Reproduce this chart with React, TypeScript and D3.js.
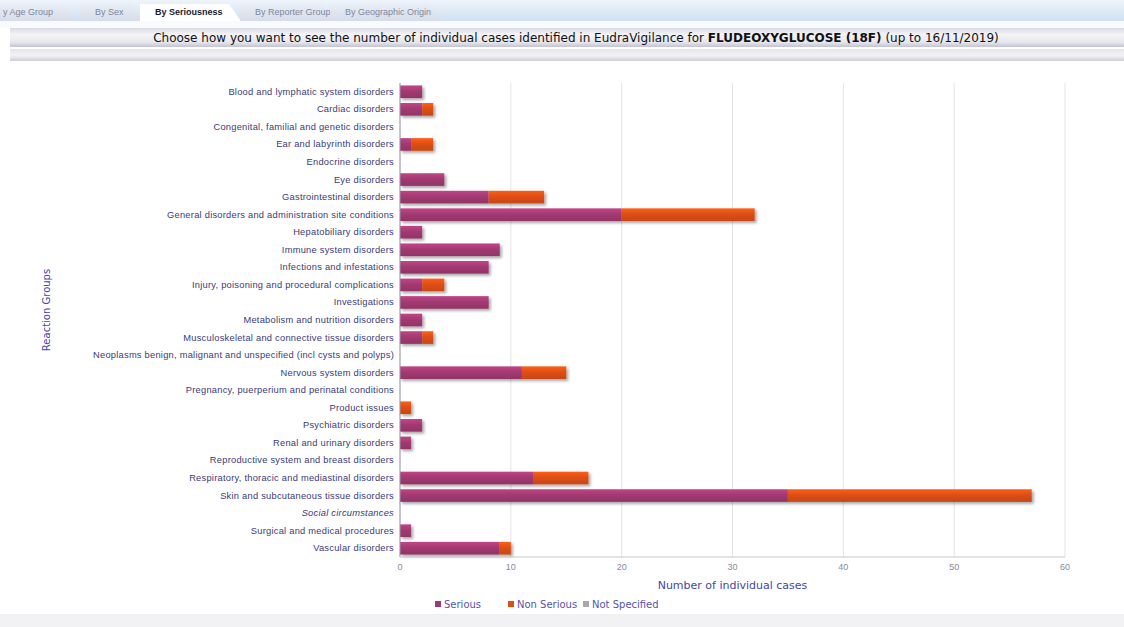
import React from "react";
import * as d3 from "d3";

const categories = [
  "Blood and lymphatic system disorders",
  "Cardiac disorders",
  "Congenital, familial and genetic disorders",
  "Ear and labyrinth disorders",
  "Endocrine disorders",
  "Eye disorders",
  "Gastrointestinal disorders",
  "General disorders and administration site conditions",
  "Hepatobiliary disorders",
  "Immune system disorders",
  "Infections and infestations",
  "Injury, poisoning and procedural complications",
  "Investigations",
  "Metabolism and nutrition disorders",
  "Musculoskeletal and connective tissue disorders",
  "Neoplasms benign, malignant and unspecified (incl cysts and polyps)",
  "Nervous system disorders",
  "Pregnancy, puerperium and perinatal conditions",
  "Product issues",
  "Psychiatric disorders",
  "Renal and urinary disorders",
  "Reproductive system and breast disorders",
  "Respiratory, thoracic and mediastinal disorders",
  "Skin and subcutaneous tissue disorders",
  "Social circumstances",
  "Surgical and medical procedures",
  "Vascular disorders",
];

const serious = [2, 2, 0, 1, 0, 4, 8, 20, 2, 9, 8, 2, 8, 2, 2, 0, 11, 0, 0, 2, 1, 0, 12, 35, 0, 1, 9];
const nonSerious = [0, 1, 0, 2, 0, 0, 5, 12, 0, 0, 0, 2, 0, 0, 1, 0, 4, 0, 1, 0, 0, 0, 5, 22, 0, 0, 1];
const notSpecified = [0, 0, 0, 0, 0, 0, 0, 0, 0, 0, 0, 0, 0, 0, 0, 0, 0, 0, 0, 0, 0, 0, 0, 0, 0, 0, 0];

const seriesNames = ["Serious", "Non Serious", "Not Specified"];
const seriesColors = ["#a23a72", "#dd4f14", "#a8a8a8"];
const xTicks = [0, 10, 20, 30, 40, 50, 60];
const tabs = ["y Age Group", "By Sex", "By Seriousness", "By Reporter Group", "By Geographic Origin"];

export default function App() {
  const W = 1124;
  const H = 627;
  const left = 400;
  const right = 1065;
  const top = 83;
  const bottom = 557;

  const x = d3.scaleLinear().domain([0, 60]).range([left, right]);
  const y = d3.scaleBand().domain(categories).range([top, bottom]).paddingInner(0.28).paddingOuter(0.14);

  const rows = categories.map((c, i) => ({ "0": serious[i], "1": nonSerious[i], "2": notSpecified[i] }));
  const stacked = d3.stack<any>().keys(["0", "1", "2"])(rows);

  const tabX = [0, 80, 140, 240, 330];
  const tabW = [70, 58, 95, 88, 105];
  const legendX = [435, 508, 583];

  return (
    <svg width={W} height={H} style={{ position: "absolute", left: 0, top: 0, background: "#fff" }} fontFamily="Liberation Sans, Arial, sans-serif">
      <defs>
        <linearGradient id="topband" x1="0" y1="0" x2="0" y2="1">
          <stop offset="0" stopColor="#eef4fb" />
          <stop offset="1" stopColor="#cfe0f2" />
        </linearGradient>
        <linearGradient id="tab" x1="0" y1="0" x2="0" y2="1">
          <stop offset="0" stopColor="#e9eef5" />
          <stop offset="1" stopColor="#d6dde8" />
        </linearGradient>
        <linearGradient id="bar" x1="0" y1="0" x2="0" y2="1">
          <stop offset="0" stopColor="#d9d9e4" />
          <stop offset="0.35" stopColor="#f4f4f7" />
          <stop offset="0.75" stopColor="#e6e6ee" />
          <stop offset="1" stopColor="#c3c3d2" />
        </linearGradient>
        <linearGradient id="bar2" x1="0" y1="0" x2="0" y2="1">
          <stop offset="0" stopColor="#e3e3ea" />
          <stop offset="0.5" stopColor="#f3f3f6" />
          <stop offset="1" stopColor="#cfcfdb" />
        </linearGradient>
        {seriesColors.map((col, i) => (
          <linearGradient key={i} id={`g${i}`} x1="0" y1="0" x2="0" y2="1">
            <stop offset="0" stopColor={d3.color(col)!.brighter(0.5).toString()} />
            <stop offset="0.45" stopColor={col} />
            <stop offset="1" stopColor={d3.color(col)!.darker(0.3).toString()} />
          </linearGradient>
        ))}
        <filter id="shadow" x="-5%" y="-30%" width="115%" height="200%">
          <feGaussianBlur in="SourceAlpha" stdDeviation="1.6" />
          <feOffset dx="2" dy="2" result="b" />
          <feComponentTransfer>
            <feFuncA type="linear" slope="0.35" />
          </feComponentTransfer>
          <feMerge>
            <feMergeNode />
            <feMergeNode in="SourceGraphic" />
          </feMerge>
        </filter>
      </defs>

      {/* top tab band */}
      <rect x={0} y={0} width={W} height={21} fill="url(#topband)" />
      {tabs.map((t, i) => (
        <g key={t}>
          <path
            d={`M${tabX[i]},21 L${tabX[i]},4 L${tabX[i] + tabW[i] - 6},4 L${tabX[i] + tabW[i] + 6},21 Z`}
            fill={i === 2 ? "#ffffff" : "url(#tab)"}
            opacity={i === 2 ? 1 : 0.9}
          />
          <text
            x={i === 0 ? 3 : tabX[i] + 15}
            y={15}
            fontSize={9}
            fill={i === 2 ? "#1a1a33" : "#7d86a0"}
            fontWeight={i === 2 ? "bold" : "normal"}
          >
            {t}
          </text>
        </g>
      ))}
      <rect x={0} y={21} width={W} height={7} fill="#f8fafc" />
      {/* title bar */}
      <rect x={10} y={28} width={W - 10} height={19} fill="url(#bar)" />
      <text x={576} y={41.5} textAnchor="middle" fontSize={12} fontFamily="DejaVu Sans, Verdana, sans-serif" fill="#111">
        <tspan>Choose how you want to see the number of individual cases identified in EudraVigilance for </tspan>
        <tspan fontWeight="bold">FLUDEOXYGLUCOSE (18F)</tspan>
        <tspan> (up to 16/11/2019)</tspan>
      </text>
      <rect x={10} y={49} width={W - 10} height={12} fill="url(#bar2)" />

      {/* gridlines */}
      {xTicks.map((t) => (
        <line key={t} x1={x(t)} x2={x(t)} y1={top} y2={bottom} stroke="#e4e4e8" strokeWidth={1} />
      ))}

      {/* bars */}
      <g filter="url(#shadow)">
        {stacked.map((s, si) =>
          s.map((d, i) =>
            d[1] - d[0] > 0 ? (
              <rect
                key={`${si}-${i}`}
                x={x(d[0])}
                y={y(categories[i])}
                width={x(d[1]) - x(d[0])}
                height={y.bandwidth()}
                fill={`url(#g${si})`}
              />
            ) : null
          )
        )}
      </g>

      {/* axes */}
      <line x1={left} x2={left} y1={top} y2={bottom} stroke="#9a9aa8" />
      <line x1={left} x2={right} y1={bottom} y2={bottom} stroke="#c8c8d0" />

      {categories.map((c) => (
        <text
          key={c}
          x={394}
          y={(y(c) as number) + y.bandwidth() / 2 + 3}
          textAnchor="end"
          fontSize={9.3}
          letterSpacing={0.25}
          fill="#3a3a78"
          fontStyle={c === "Social circumstances" ? "italic" : "normal"}
        >
          {c}
        </text>
      ))}

      {xTicks.map((t) => (
        <text key={t} x={x(t)} y={570} textAnchor="middle" fontSize={9} fill="#8a8a9a">
          {t}
        </text>
      ))}

      <text x={(left + right) / 2} y={589} textAnchor="middle" fontSize={11} fontFamily="DejaVu Sans, Verdana, sans-serif" fill="#4444aa">
        Number of individual cases
      </text>
      <text
        transform={`translate(50,310) rotate(-90)`}
        textAnchor="middle"
        fontSize={10}
        fontFamily="DejaVu Sans, Verdana, sans-serif"
        fill="#4444aa"
      >
        Reaction Groups
      </text>

      {/* legend */}
      {seriesNames.map((n, i) => (
        <g key={n}>
          <rect x={legendX[i]} y={601} width={6} height={6} fill={seriesColors[i]} />
          <text x={legendX[i] + 9} y={608} fontSize={10} fontFamily="DejaVu Sans, Verdana, sans-serif" fill="#5555aa">
            {n}
          </text>
        </g>
      ))}

      <rect x={0} y={614} width={W} height={13} fill="#f2f2f4" />
    </svg>
  );
}
